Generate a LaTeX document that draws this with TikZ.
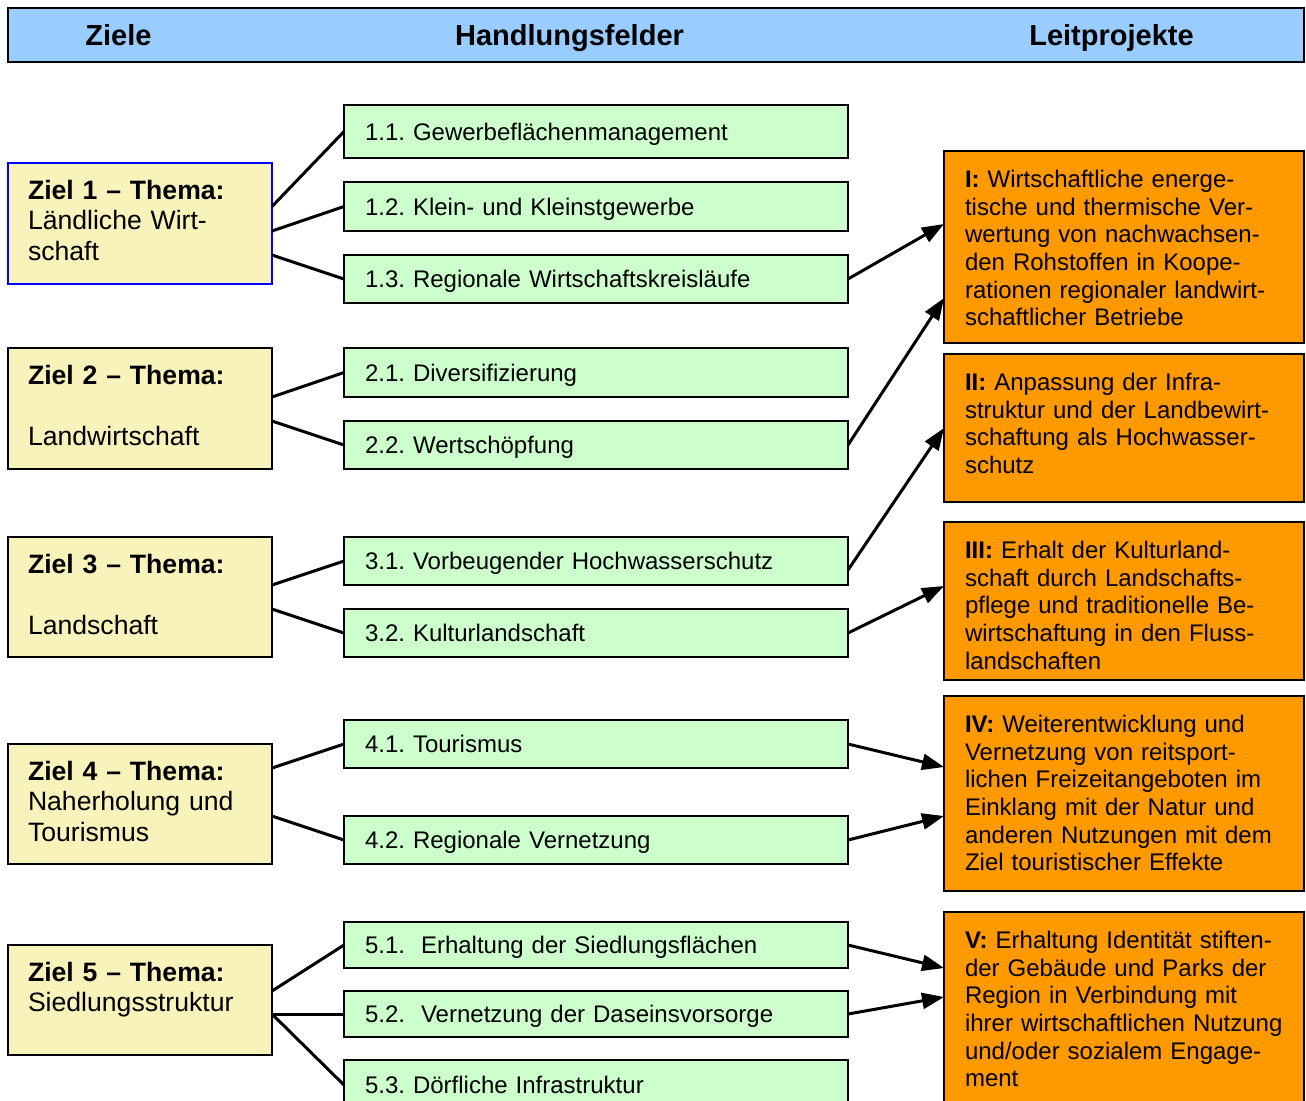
\documentclass[tikz,border=0pt]{standalone}
\usepackage{fontspec}
\setmainfont{Liberation Sans}
\usetikzlibrary{arrows.meta,calc}
\frenchspacing
\definecolor{kopfblau}{HTML}{99CCFF}
\definecolor{zielgelb}{HTML}{F8F3BA}
\definecolor{feldgruen}{HTML}{CCFFCC}
\definecolor{leitorange}{HTML}{FF9900}
\tikzset{
  box/.style={draw,line width=1pt,anchor=north west,align=left,inner ysep=0pt,outer sep=0pt},
  ziel/.style={box,fill=zielgelb,text width=112pt,inner xsep=10pt,text height=18pt,
    font=\fontsize{13.3}{15.25}\selectfont},
  feld/.style={box,fill=feldgruen,text width=231pt,inner xsep=10.5pt,text height=8.7pt,text depth=0pt,
    font=\fontsize{12}{13.8}\selectfont},
  leit/.style={box,fill=leitorange,text width=159pt,inner xsep=10.5pt,text height=18.3pt,
    font=\fontsize{12}{13.8}\selectfont},
  kopftext/.style={anchor=base,font=\fontsize{14.5}{17}\selectfont\bfseries},
  verb/.style={line width=1.5pt},
  pfeil/.style={line width=1.5pt,-{Triangle[length=11pt,width=8pt]}}
}
\begin{document}
\begin{tikzpicture}[x=0.5pt,y=-0.5pt]
  \useasboundingbox (0,0) rectangle (1306,1100);
  \clip (0,0) rectangle (1306,1100);
  \node[box,fill=kopfblau,minimum width=648pt,minimum height=27pt] (kopf) at (8,8) {};
  \node[kopftext] (tziele) at (118.5,45) {Ziele};
  \node[kopftext] (tfelder) at (569.5,45) {Handlungsfelder};
  \node[kopftext] (tleit) at (1111.5,45) {Leitprojekte};

  \node[ziel,draw=blue,text depth=42.5pt] (z1) at (8,163)
    {\textbf{Ziel 1 – Thema:}\\Ländliche Wirt-\\schaft};
  \node[ziel,text depth=42.5pt] (z2) at (8,348)
    {\textbf{Ziel 2 – Thema:}\\[15.25pt]Landwirtschaft};
  \node[ziel,text depth=42pt] (z3) at (8,537)
    {\textbf{Ziel 3 – Thema:}\\[15.25pt]Landschaft};
  \node[ziel,text depth=42pt] (z4) at (8,744)
    {\textbf{Ziel 4 – Thema:}\\Naherholung und\\Tourismus};
  \node[ziel,text depth=37pt] (z5) at (8,945)
    {\textbf{Ziel 5 – Thema:}\\Siedlungsstruktur};

  \foreach \n/\y/\h/\t in {g11/105/26.5pt/{1.1. Gewerbeflächenmanagement},
      g12/182/24.5pt/{1.2. Klein- und Kleinstgewerbe},
      g13/255/24pt/{1.3. Regionale Wirtschaftskreisläufe},
      g21/348/24.5pt/{2.1. Diversifizierung},
      g22/421/24pt/{2.2. Wertschöpfung},
      g31/537/24pt/{3.1. Vorbeugender Hochwasserschutz},
      g32/609/24pt/{3.2. Kulturlandschaft},
      g41/720/24pt/{4.1. Tourismus},
      g42/816/24pt/{4.2. Regionale Vernetzung},
      g51/922/23pt/{5.1.\ \ Erhaltung der Siedlungsflächen},
      g52/991/23pt/{5.2.\ \ Vernetzung der Daseinsvorsorge},
      g53/1060/25pt/{5.3. Dörfliche Infrastruktur}}
    \node[feld,minimum height=\h] (\n) at (344,\y) {\t};

  \node[leit,text depth=77.7pt] (o1) at (944,151)
    {\textbf{I:} Wirtschaftliche energe-\\tische und thermische Ver-\\wertung von nachwachsen-\\den Rohstoffen in Koope-\\rationen regionaler landwirt-\\schaftlicher Betriebe};
  \node[leit,text depth=55.7pt] (o2) at (944,354)
    {\textbf{II:} Anpassung der Infra-\\struktur und der Landbewirt-\\schaftung als Hochwasser-\\schutz};
  \node[leit,text depth=60.7pt] (o3) at (944,522)
    {\textbf{III:} Erhalt der Kulturland-\\schaft durch Landschafts-\\pflege und traditionelle Be-\\wirtschaftung in den Fluss-\\landschaften};
  \node[leit,text depth=79.2pt] (o4) at (944,696)
    {\textbf{IV:} Weiterentwicklung und\\Vernetzung von reitsport-\\lichen Freizeitangeboten im\\Einklang mit der Natur und\\anderen Nutzungen mit dem\\Ziel touristischer Effekte};
  \node[leit,text depth=81.7pt] (o5) at (944,912)
    {\textbf{V:} Erhaltung Identität stiften-\\der Gebäude und Parks der\\Region in Verbindung mit\\ihrer wirtschaftlichen Nutzung\\und/oder sozialem Engage-\\ment};

  \draw[verb] (z1.east |- g12.west) -- (g11.west);
  \draw[verb] (z1.east |- g12.south) -- (g12.west);
  \draw[verb] (z1.east |- g13.north) -- (g13.west);
  \foreach \z/\a/\b in {z2/g21/g22,z3/g31/g32,z4/g41/g42} {
    \draw[verb] (\z.east |- \a.south) -- (\a.west);
    \draw[verb] (\z.east |- \b.north) -- (\b.west);
  }
  \draw[verb] (z5.east |- g52.north) -- (g51.west);
  \draw[verb] (z5.east |- g52.west) -- (g52.west);
  \draw[verb] (z5.east |- g52.west) -- (g53.west);

  \draw[pfeil] (g13.east) -- ($(o1.north west)+(0,73)$);
  \draw[pfeil] (g22.east) -- ($(o1.north west)+(0,147)$);
  \draw[pfeil] ($(g31.east)+(0,9)$) -- ($(o2.north west)+(0,74)$);
  \draw[pfeil] (g32.east) -- ($(o3.north west)+(0,64)$);
  \draw[pfeil] (g41.east) -- ($(o4.north west)+(0,71)$);
  \draw[pfeil] (g42.east) -- ($(o4.north west)+(0,120)$);
  \draw[pfeil] (g51.east) -- ($(o5.north west)+(0,56)$);
  \draw[pfeil] (g52.east) -- ($(o5.north west)+(0,85)$);
\end{tikzpicture}
\end{document}
